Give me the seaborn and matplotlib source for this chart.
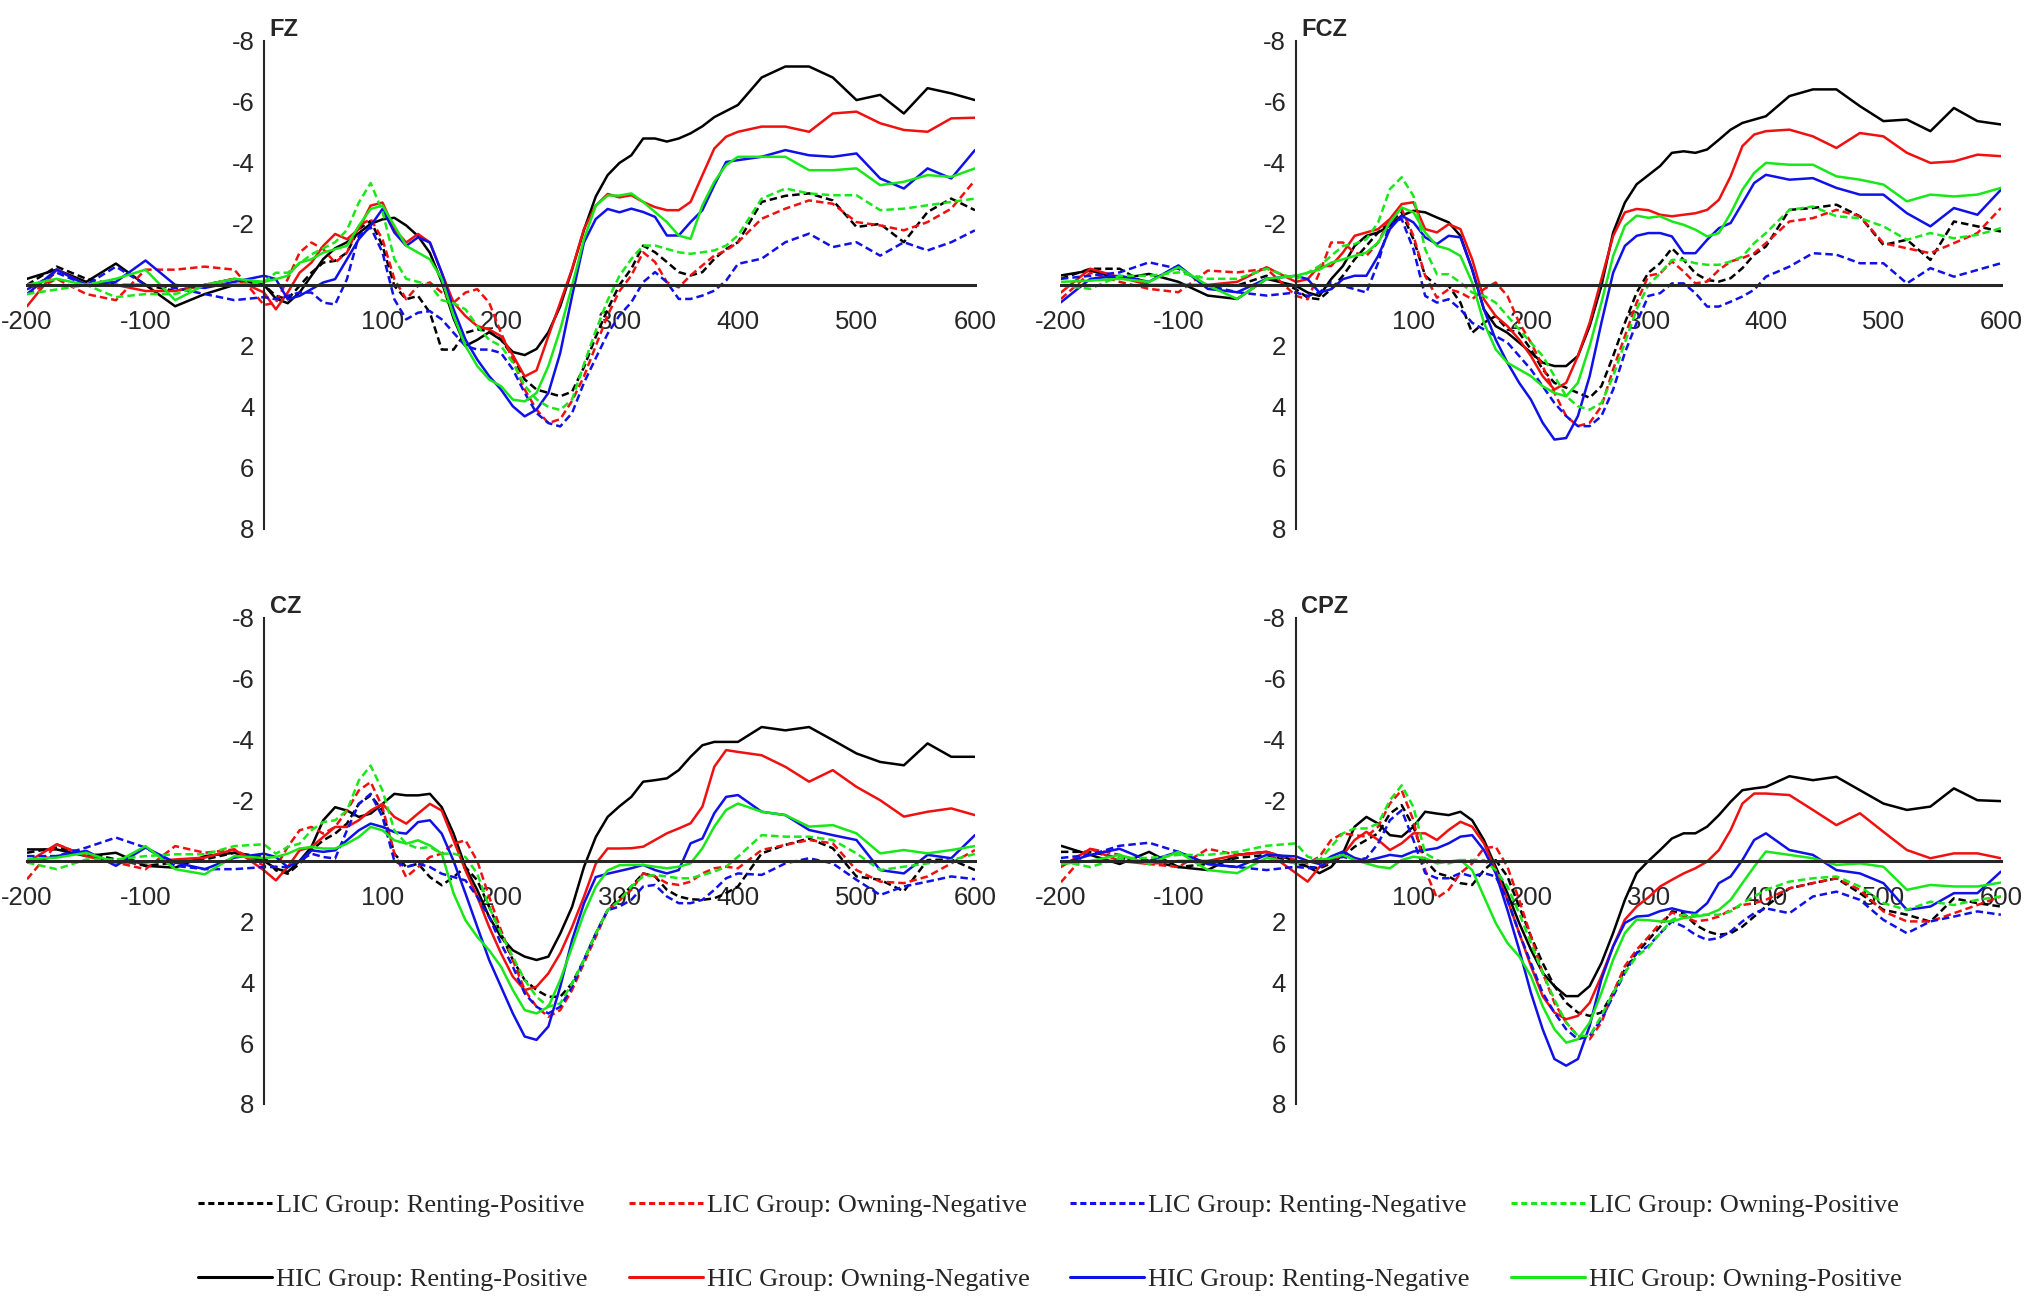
import matplotlib
matplotlib.use("Agg")
import numpy as np
import pandas as pd
import matplotlib.pyplot as plt
from matplotlib.lines import Line2D
import seaborn as sns

sns.set_style("white")
plt.rcParams["font.family"] = ["Liberation Sans", "DejaVu Sans"]
plt.rcParams["axes.unicode_minus"] = False

# time points (ms)
time_ms = [-200, -175, -150, -125, -100, -75, -50, -25,
           0, 10, 20, 30, 40, 50, 60, 70, 80, 90, 100,
           110, 120, 130, 140, 150, 160, 170, 180, 190, 200,
           210, 220, 230, 240, 250, 260, 270, 280, 290, 300,
           310, 320, 330, 340, 350, 360, 370, 380, 390, 400,
           420, 440, 460, 480, 500, 520, 540, 560, 580, 600]

conditions = ["Renting-Positive", "Owning-Negative", "Renting-Negative", "Owning-Positive"]
cond_colors = ["#000000", "#f01010", "#1010e8", "#18e818"]
groups = ["LIC Group", "HIC Group"]

# ---------------- FZ ----------------
fz_lic_rp = [0.0, -0.6, -0.2, 0.0, 0.0, 0.2, 0.0, -0.2, 0.0,
             0.36, 0.47, 0.03, -0.4, -0.73, -0.79, -1.06, -1.83, -2.1, -1.28,
             0.03, 0.47, 0.36, 0.91, 2.12, 2.12, 1.57, 1.46, 1.51, 1.79,
             2.34, 3.1, 3.43, 3.54, 3.65, 3.5, 2.7, 1.7, 0.8, 0.0,
             -0.53, -1.29, -1.07, -0.75, -0.42, -0.31, -0.42, -0.85, -1.18, -1.4,
             -2.72, -2.92, -3.0, -2.77, -1.9, -2.0, -1.4, -2.39, -2.83, -2.45]
fz_lic_on = [0.3, -0.2, 0.3, 0.5, -0.5, -0.5, -0.6, -0.5, 0.66,
             0.58, -0.19, -1.06, -1.39, -1.17, -0.73, -1.06, -1.94, -2.16, -1.5,
             -0.19, 0.47, 0.03, -0.08, 0.25, 0.58, 0.25, 0.14, 0.58, 1.57,
             2.45, 3.43, 4.09, 4.53, 4.4, 3.8, 3.0, 2.0, 1.0, 0.2,
             -0.31, -1.07, -0.75, -0.09, 0.08, -0.31, -0.64, -0.96, -1.13, -1.4,
             -2.17, -2.5, -2.77, -2.66, -2.06, -1.95, -1.79, -2.06, -2.5, -3.43]
fz_lic_rn = [0.15, -0.4, 0.0, -0.6, 0.0, 0.1, 0.3, 0.5, 0.4,
             0.47, 0.36, 0.25, 0.25, 0.58, 0.64, -0.19, -1.61, -1.89, -1.06,
             0.47, 1.13, 0.91, 0.86, 1.13, 1.57, 2.0, 2.12, 2.12, 2.23,
             2.77, 3.54, 4.2, 4.53, 4.64, 4.2, 3.21, 2.4, 1.6, 1.0,
             0.57, -0.09, -0.42, -0.09, 0.46, 0.46, 0.35, 0.19, -0.14, -0.69,
             -0.86, -1.4, -1.68, -1.24, -1.4, -0.96, -1.4, -1.13, -1.4, -1.79]
fz_lic_op = [0.3, 0.15, 0.0, 0.4, 0.3, 0.3, 0.0, 0.0, -0.1,
             -0.4, -0.4, -0.7, -1.0, -1.2, -1.4, -1.8, -2.7, -3.34, -2.4,
             -0.85, -0.2, -0.1, 0.0, 0.5, 0.6, 0.8, 1.35, 1.8, 2.0,
             2.55, 3.3, 3.75, 4.0, 4.1, 3.75, 2.6, 1.5, 0.5, -0.3,
             -0.85, -1.29, -1.29, -1.18, -1.07, -1.02, -1.07, -1.13, -1.29, -1.62,
             -2.83, -3.16, -3.0, -2.94, -2.94, -2.45, -2.5, -2.61, -2.72, -2.83]
fz_hic_rp = [-0.2, -0.5, -0.1, -0.7, 0.0, 0.7, 0.3, 0.0, 0.0,
             0.45, 0.6, 0.25, -0.3, -0.85, -1.2, -1.4, -1.7, -2.0, -2.15,
             -2.2, -1.95, -1.6, -1.05, -0.1, 1.1, 2.0, 1.8, 1.55, 1.8,
             2.2, 2.3, 2.1, 1.55, 0.7, -0.5, -1.8, -2.9, -3.6, -4.0,
             -4.25, -4.8, -4.8, -4.7, -4.8, -4.97, -5.2, -5.5, -5.7, -5.9,
             -6.8, -7.16, -7.16, -6.8, -6.06, -6.23, -5.62, -6.45, -6.28, -6.06]
fz_hic_on = [0.7, -0.5, 0.0, 0.0, 0.2, 0.2, 0.0, -0.2, 0.25,
             0.8, 0.25, -0.4, -0.73, -1.28, -1.67, -1.5, -1.83, -2.6, -2.7,
             -1.83, -1.39, -1.67, -1.39, -0.4, 0.58, 1.02, 1.35, 1.46, 1.68,
             2.3, 3.0, 2.8, 1.68, 0.58, -0.52, -1.83, -2.6, -2.98, -2.87,
             -2.94, -2.72, -2.55, -2.45, -2.45, -2.72, -3.6, -4.47, -4.86, -5.02,
             -5.19, -5.19, -5.02, -5.62, -5.68, -5.3, -5.08, -5.02, -5.46, -5.48]
fz_hic_rn = [0.3, -0.5, 0.0, -0.1, -0.8, 0.0, 0.1, -0.1, -0.3,
             -0.19, 0.47, 0.36, 0.14, -0.08, -0.19, -0.84, -1.5, -1.94, -2.49,
             -1.72, -1.28, -1.56, -1.39, -0.4, 0.8, 1.79, 2.45, 2.99, 3.43,
             3.98, 4.31, 4.09, 3.54, 2.23, 0.36, -1.39, -2.16, -2.49, -2.38,
             -2.5, -2.39, -2.23, -1.62, -1.62, -2.06, -2.45, -3.27, -4.03, -4.09,
             -4.2, -4.42, -4.25, -4.2, -4.31, -3.49, -3.16, -3.82, -3.49, -4.42]
fz_hic_op = [0.0, -0.2, 0.0, -0.2, -0.5, 0.5, 0.0, -0.2, -0.1,
             -0.19, -0.3, -0.73, -0.84, -1.06, -1.17, -1.28, -1.94, -2.49, -2.6,
             -1.94, -1.28, -1.06, -0.84, -0.19, 1.02, 2.0, 2.66, 3.1, 3.32,
             3.76, 3.82, 3.54, 2.66, 1.46, 0.03, -1.5, -2.6, -2.93, -2.93,
             -3.0, -2.72, -2.39, -2.06, -1.62, -1.51, -2.61, -3.38, -3.93, -4.2,
             -4.2, -4.2, -3.76, -3.76, -3.82, -3.27, -3.38, -3.6, -3.54, -3.82]

# ---------------- FCZ ----------------
fcz_lic_rp = [-0.2, -0.53, -0.53, 0.02, 0.02, 0.02, 0.02, -0.3, 0.14,
              0.42, 0.47, 0.14, -0.3, -0.84, -1.28, -1.72, -2.05, -2.38, -1.5,
              -0.3, 0.03, 0.03, 0.58, 1.57, 1.24, 1.02, 1.46, 1.57, 2.11,
              2.77, 3.21, 3.37, 3.54, 3.7, 3.32, 2.33, 1.24, 0.25, -0.4,
              -0.71, -1.2, -0.82, -0.38, -0.16, -0.11, -0.22, -0.55, -0.99, -1.26,
              -2.46, -2.52, -2.63, -2.25, -1.31, -1.48, -0.82, -2.08, -1.92, -1.75]
fcz_lic_on = [0.46, -0.4, -0.1, 0.13, 0.24, -0.47, -0.41, -0.53, 0.36,
              0.47, -0.4, -1.39, -1.39, -1.06, -0.95, -1.39, -2.16, -2.49, -1.61,
              -0.3, 0.42, 0.14, 0.25, 0.47, 0.14, -0.08, 0.36, 1.24, 1.89,
              2.66, 3.54, 4.3, 4.63, 4.52, 3.98, 2.77, 1.68, 0.58, -0.3,
              -0.38, -0.77, -0.44, -0.05, -0.11, -0.49, -0.77, -0.88, -1.04, -1.37,
              -2.08, -2.19, -2.46, -2.25, -1.37, -1.2, -1.04, -1.37, -1.7, -2.52]
fcz_lic_rn = [-0.2, -0.3, -0.41, -0.74, -0.53, 0.02, 0.24, 0.35, 0.25,
              0.36, 0.25, -0.08, 0.03, 0.14, 0.25, -0.73, -2.05, -2.16, -1.17,
              0.36, 0.58, 0.47, 0.8, 1.24, 1.46, 1.68, 1.89, 2.33, 2.77,
              3.32, 3.87, 4.3, 4.63, 4.63, 4.3, 3.43, 2.22, 1.24, 0.36,
              0.27, -0.05, -0.05, 0.27, 0.71, 0.71, 0.55, 0.38, 0.16, -0.27,
              -0.6, -1.04, -0.99, -0.71, -0.71, -0.05, -0.55, -0.27, -0.49, -0.71]
fcz_lic_op = [0.02, 0.13, -0.3, -0.3, -0.41, -0.2, -0.2, -0.53, -0.19,
              -0.4, -0.62, -0.95, -1.28, -1.34, -1.5, -2.05, -3.14, -3.53, -2.92,
              -1.17, -0.35, -0.35, -0.08, 0.25, 0.36, 0.58, 1.02, 1.46, 1.89,
              2.33, 2.99, 3.65, 3.98, 4.09, 3.87, 2.99, 1.89, 0.8, 0.0,
              -0.38, -0.82, -0.82, -0.71, -0.66, -0.66, -0.77, -0.93, -1.37, -1.7,
              -2.46, -2.57, -2.25, -2.19, -1.92, -1.48, -1.7, -1.53, -1.64, -1.86]
fcz_hic_rp = [-0.31, -0.47, -0.2, -0.36, -0.1, 0.35, 0.46, -0.2, 0.03,
              0.25, 0.36, -0.19, -0.62, -1.28, -1.61, -1.72, -1.94, -2.27, -2.43,
              -2.38, -2.21, -2.05, -1.61, -0.51, 0.8, 1.35, 1.57, 1.89, 2.22,
              2.55, 2.66, 2.66, 2.33, 1.35, 0.03, -1.72, -2.7, -3.3, -3.6,
              -3.9, -4.33, -4.38, -4.33, -4.44, -4.76, -5.09, -5.31, -5.42, -5.53,
              -6.19, -6.41, -6.41, -5.86, -5.37, -5.42, -5.04, -5.8, -5.37, -5.26]
fcz_hic_on = [0.25, -0.53, -0.25, 0.0, 0.0, 0.0, -0.1, -0.58, -0.1,
              -0.19, -0.62, -0.62, -1.06, -1.61, -1.72, -1.83, -2.16, -2.65, -2.71,
              -1.83, -1.72, -1.99, -1.83, -0.84, 0.47, 1.02, 1.35, 1.79, 2.33,
              2.99, 3.43, 3.21, 2.33, 1.24, -0.19, -1.61, -2.38, -2.49, -2.45,
              -2.3, -2.25, -2.3, -2.35, -2.46, -2.79, -3.56, -4.55, -4.93, -5.04,
              -5.09, -4.87, -4.49, -4.98, -4.87, -4.33, -4.0, -4.05, -4.27, -4.22]
fcz_hic_rn = [0.57, -0.2, -0.3, -0.1, -0.64, 0.13, 0.24, -0.2, -0.3,
              -0.19, 0.25, 0.14, -0.19, -0.3, -0.3, -0.95, -1.83, -2.27, -2.05,
              -1.56, -1.34, -1.61, -1.56, -0.51, 0.8, 1.79, 2.55, 3.21, 3.76,
              4.52, 5.07, 5.02, 4.3, 2.99, 1.24, -0.4, -1.28, -1.61, -1.7,
              -1.7, -1.59, -1.04, -1.04, -1.48, -1.86, -2.03, -2.68, -3.34, -3.61,
              -3.45, -3.5, -3.18, -2.96, -2.96, -2.35, -1.92, -2.52, -2.3, -3.12]
fcz_hic_op = [-0.1, -0.14, -0.2, -0.1, -0.58, 0.02, 0.46, -0.2, -0.3,
              -0.4, -0.5, -0.73, -0.84, -0.95, -1.06, -1.39, -2.05, -2.54, -2.38,
              -1.72, -1.28, -1.17, -0.95, -0.08, 1.24, 2.11, 2.55, 2.77, 2.99,
              3.32, 3.54, 3.65, 3.21, 2.0, 0.58, -0.95, -1.94, -2.27, -2.2,
              -2.25, -2.08, -1.97, -1.81, -1.59, -1.7, -2.35, -3.12, -3.67, -4.0,
              -3.94, -3.94, -3.56, -3.45, -3.29, -2.74, -2.96, -2.9, -2.96, -3.18]

# ---------------- CZ ----------------
cz_lic_rp = [-0.27, -0.44, -0.27, -0.05, 0.16, 0.05, -0.05, -0.27, -0.13,
             0.31, 0.42, 0.09, -0.35, -0.68, -0.9, -1.23, -1.88, -2.16, -1.66,
             -0.24, 0.2, 0.09, 0.53, 0.8, 0.53, 0.2, 0.64, 1.51, 2.39,
             3.26, 3.92, 4.25, 4.47, 4.47, 4.03, 3.26, 2.39, 1.62, 1.2,
             0.84, 0.41, 0.51, 0.95, 1.17, 1.26, 1.28, 1.23, 1.06, 0.84,
             -0.25, -0.53, -0.74, -0.42, 0.51, 0.62, 1.0, -0.03, -0.05, 0.3]
cz_lic_on = [0.6, -0.55, -0.16, 0.05, 0.27, -0.49, -0.27, -0.38, 0.16,
             0.2, -0.46, -1.01, -1.12, -0.9, -1.12, -1.66, -2.32, -2.6, -1.77,
             -0.24, 0.53, 0.2, -0.13, -0.24, -0.57, -0.68, 0.0, 1.18, 2.28,
             3.26, 4.25, 4.8, 5.13, 4.91, 4.25, 3.37, 2.5, 1.62, 1.3,
             0.95, 0.41, 0.51, 0.73, 0.79, 0.68, 0.41, 0.24, 0.19, 0.24,
             -0.36, -0.53, -0.69, -0.58, 0.3, 0.68, 0.73, 0.51, 0.08, -0.36]
cz_lic_rn = [-0.16, -0.16, -0.44, -0.77, -0.44, 0.16, 0.27, 0.27, 0.2,
             0.2, 0.2, 0.0, -0.24, -0.13, -0.08, -1.01, -1.88, -2.21, -1.45,
             0.0, 0.2, 0.09, 0.2, 0.42, 0.53, 0.64, 1.18, 1.84, 2.72,
             3.48, 4.36, 4.8, 5.02, 4.8, 4.14, 3.26, 2.39, 1.62, 1.5,
             1.28, 0.84, 0.79, 1.17, 1.39, 1.39, 1.28, 0.95, 0.57, 0.41,
             0.46, 0.08, -0.09, 0.08, 0.62, 1.12, 0.84, 0.68, 0.51, 0.6]
cz_lic_op = [0.05, 0.27, -0.05, -0.05, -0.16, -0.22, -0.22, -0.49, -0.55,
             -0.24, -0.46, -0.57, -1.01, -1.28, -1.34, -1.66, -2.65, -3.14, -2.32,
             -1.01, -0.57, -0.41, -0.46, -0.24, -0.24, -0.13, 0.42, 1.51, 2.39,
             3.15, 3.92, 4.47, 4.8, 4.69, 4.03, 3.26, 2.39, 1.62, 1.3,
             0.84, 0.51, 0.46, 0.51, 0.57, 0.57, 0.46, 0.35, 0.19, -0.14,
             -0.85, -0.8, -0.8, -0.69, -0.25, 0.3, 0.19, 0.08, -0.03, -0.23]
cz_hic_rp = [-0.38, -0.38, -0.16, -0.27, 0.16, 0.22, -0.16, -0.27, 0.0,
             0.25, 0.36, 0.0, -0.46, -1.34, -1.77, -1.66, -1.45, -1.56, -1.88,
             -2.21, -2.16, -2.16, -2.21, -1.77, -0.9, 0.2, 0.96, 1.84, 2.5,
             2.94, 3.15, 3.26, 3.15, 2.39, 1.51, 0.2, -0.79, -1.45, -1.8,
             -2.11, -2.61, -2.66, -2.72, -2.99, -3.43, -3.81, -3.92, -3.92, -3.92,
             -4.41, -4.3, -4.41, -3.98, -3.54, -3.26, -3.15, -3.87, -3.43, -3.43]
cz_hic_on = [0.05, -0.55, -0.16, 0.05, 0.05, -0.05, -0.11, -0.38, 0.31,
             0.64, 0.2, -0.35, -0.46, -0.79, -1.12, -1.12, -1.34, -1.66, -1.88,
             -1.45, -1.23, -1.56, -1.88, -1.66, -0.68, 0.31, 1.18, 2.17, 3.04,
             3.81, 4.25, 4.14, 3.7, 3.04, 2.17, 1.18, 0.09, -0.41, -0.41,
             -0.42, -0.47, -0.69, -0.91, -1.07, -1.24, -1.79, -3.1, -3.65, -3.59,
             -3.48, -3.1, -2.61, -2.99, -2.44, -2.0, -1.46, -1.62, -1.73, -1.51]
cz_hic_rn = [0.05, -0.16, -0.33, 0.16, -0.44, 0.05, 0.27, -0.11, -0.24,
             -0.13, 0.2, 0.0, -0.35, -0.3, -0.35, -0.68, -1.01, -1.23, -1.12,
             -0.95, -0.9, -1.28, -1.34, -0.9, 0.0, 1.07, 2.17, 3.26, 4.14,
             5.02, 5.78, 5.89, 5.45, 4.14, 2.61, 1.4, 0.53, 0.42, 0.33,
             0.24, 0.13, 0.3, 0.41, 0.3, -0.58, -0.74, -1.57, -2.11, -2.17,
             -1.62, -1.51, -1.02, -0.85, -0.69, 0.3, 0.41, -0.2, -0.09, -0.85]
cz_hic_op = [-0.05, -0.11, -0.27, 0.05, -0.49, 0.27, 0.44, -0.16, -0.1,
             -0.13, -0.24, -0.41, -0.46, -0.41, -0.41, -0.57, -0.79, -1.12, -1.01,
             -0.68, -0.57, -0.68, -0.51, -0.24, 1.07, 1.95, 2.5, 2.94, 3.48,
             4.25, 4.91, 5.02, 4.8, 3.92, 2.83, 1.73, 0.85, 0.31, 0.14,
             0.13, 0.13, 0.19, 0.24, 0.19, 0.08, -0.42, -1.13, -1.68, -1.89,
             -1.62, -1.51, -1.13, -1.18, -0.91, -0.25, -0.36, -0.25, -0.36, -0.49]

# ---------------- CPZ ----------------
cpz_lic_rp = [-0.3, -0.3, -0.1, 0.0, 0.2, 0.1, -0.1, -0.2, 0.08,
              0.19, 0.24, 0.08, -0.14, -0.47, -0.69, -0.91, -1.56, -1.84, -1.13,
              -0.03, 0.4, 0.51, 0.73, 0.79, 0.3, -0.03, 0.51, 1.5, 2.48,
              3.36, 4.12, 4.67, 4.99, 5.1, 4.99, 4.34, 3.57, 3.03, 2.6,
              2.16, 1.66, 1.72, 2.1, 2.32, 2.43, 2.38, 2.16, 1.83, 1.5,
              0.9, 0.73, 0.57, 1.06, 1.61, 1.77, 2.0, 1.23, 1.39, 1.5]
cpz_lic_on = [0.7, -0.4, -0.2, 0.1, 0.2, -0.4, -0.2, -0.3, -0.03,
              0.08, -0.14, -0.69, -0.91, -0.85, -0.8, -1.13, -1.89, -2.33, -1.34,
              0.3, 1.22, 0.95, 0.4, 0.08, -0.42, -0.47, 0.19, 1.28, 2.48,
              3.68, 4.67, 5.32, 5.76, 5.87, 5.32, 4.34, 3.46, 2.92, 2.5,
              2.05, 1.7, 1.83, 1.99, 1.94, 1.83, 1.61, 1.45, 1.39, 1.28,
              0.9, 0.73, 0.57, 0.95, 1.66, 1.99, 1.99, 1.72, 1.45, 1.17]
cpz_lic_rn = [-0.1, -0.2, -0.5, -0.6, -0.3, 0.1, 0.2, 0.3, 0.19,
              0.24, 0.19, -0.03, -0.14, -0.03, -0.09, -0.58, -1.34, -1.67, -0.69,
              0.4, 0.57, 0.57, 0.4, 0.51, 0.4, 0.51, 1.28, 2.37, 3.36,
              4.34, 4.99, 5.54, 5.87, 5.76, 5.21, 4.45, 3.68, 3.03, 2.8,
              2.38, 1.99, 2.16, 2.43, 2.6, 2.54, 2.32, 1.99, 1.72, 1.56,
              1.72, 1.17, 1.01, 1.28, 1.94, 2.38, 1.99, 1.83, 1.66, 1.77]
cpz_lic_op = [0.0, 0.2, -0.1, -0.1, -0.2, -0.2, -0.3, -0.5, -0.58,
              -0.14, -0.03, -0.47, -0.91, -1.07, -1.07, -1.23, -2.0, -2.49, -1.78,
              -0.25, -0.03, 0.08, -0.03, -0.03, -0.03, 0.3, 0.84, 1.72, 2.7,
              3.68, 4.56, 5.32, 5.76, 5.76, 5.1, 4.34, 3.68, 3.14, 2.85,
              2.38, 1.94, 1.77, 1.77, 1.77, 1.77, 1.66, 1.39, 1.17, 0.95,
              0.68, 0.57, 0.51, 0.84, 1.39, 1.61, 1.34, 1.45, 1.28, 1.17]
cpz_hic_rp = [-0.5, -0.2, 0.1, -0.3, 0.2, 0.3, -0.2, -0.3, 0.0,
              0.19, 0.4, 0.2, -0.25, -1.13, -1.45, -1.23, -0.85, -0.8, -1.13,
              -1.62, -1.56, -1.51, -1.62, -1.34, -0.69, 0.19, 1.06, 2.04, 2.92,
              3.68, 4.12, 4.45, 4.45, 4.12, 3.36, 2.37, 1.28, 0.4, 0.0,
              -0.36, -0.74, -0.91, -0.91, -1.13, -1.51, -1.95, -2.33, -2.39, -2.44,
              -2.79, -2.66, -2.77, -2.33, -1.89, -1.68, -1.79, -2.39, -2.0, -1.97]
cpz_hic_on = [0.2, -0.4, 0.0, 0.1, 0.0, 0.0, -0.2, -0.3, 0.4,
              0.68, 0.2, 0.0, -0.2, -0.69, -0.96, -0.69, -0.36, -0.58, -0.91,
              -0.91, -0.69, -1.02, -1.29, -1.13, -0.58, 0.3, 1.28, 2.37, 3.46,
              4.45, 4.99, 5.21, 5.1, 4.67, 3.79, 2.81, 1.93, 1.5, 1.2,
              0.84, 0.62, 0.41, 0.24, 0.02, -0.36, -1.02, -1.89, -2.22, -2.22,
              -2.17, -1.68, -1.18, -1.57, -0.96, -0.36, -0.09, -0.25, -0.25, -0.09]
cpz_hic_rn = [0.1, -0.2, -0.4, 0.0, -0.3, 0.1, 0.2, -0.2, -0.15,
              0.0, 0.1, -0.15, -0.31, -0.1, 0.0, -0.1, -0.2, -0.15, -0.31,
              -0.36, -0.42, -0.58, -0.8, -0.85, -0.36, 0.4, 1.61, 2.92, 4.34,
              5.54, 6.52, 6.74, 6.52, 5.43, 3.9, 2.81, 2.04, 1.83, 1.8,
              1.65, 1.56, 1.66, 1.72, 1.39, 0.73, 0.51, -0.03, -0.69, -0.91,
              -0.36, -0.2, 0.3, 0.41, 0.73, 1.61, 1.5, 1.06, 1.06, 0.35]
cpz_hic_op = [0.1, 0.0, -0.2, 0.1, -0.3, 0.3, 0.4, -0.1, 0.08,
              0.02, -0.03, -0.09, -0.2, -0.03, 0.08, 0.19, 0.24, -0.03, -0.14,
              -0.09, 0.08, 0.02, -0.03, 0.3, 1.17, 2.04, 2.7, 3.14, 3.79,
              4.78, 5.54, 5.98, 5.87, 5.32, 4.34, 3.25, 2.37, 1.93, 1.95,
              1.99, 1.99, 1.88, 1.83, 1.77, 1.61, 1.28, 0.73, 0.19, -0.31,
              -0.2, -0.09, 0.13, 0.08, 0.19, 0.95, 0.79, 0.84, 0.84, 0.71]

panels = {
    "FZ": [fz_lic_rp, fz_lic_on, fz_lic_rn, fz_lic_op, fz_hic_rp, fz_hic_on, fz_hic_rn, fz_hic_op],
    "FCZ": [fcz_lic_rp, fcz_lic_on, fcz_lic_rn, fcz_lic_op, fcz_hic_rp, fcz_hic_on, fcz_hic_rn, fcz_hic_op],
    "CZ": [cz_lic_rp, cz_lic_on, cz_lic_rn, cz_lic_op, cz_hic_rp, cz_hic_on, cz_hic_rn, cz_hic_op],
    "CPZ": [cpz_lic_rp, cpz_lic_on, cpz_lic_rn, cpz_lic_op, cpz_hic_rp, cpz_hic_on, cpz_hic_rn, cpz_hic_op],
}

# axes rectangles in figure fractions (left, bottom, width, height)
ax_rects = {
    "FZ": [0.0133, 0.5925, 0.4665, 0.376],
    "FCZ": [0.5221, 0.5925, 0.4626, 0.376],
    "CZ": [0.0133, 0.1495, 0.4665, 0.3744],
    "CPZ": [0.5221, 0.1495, 0.4626, 0.3744],
}

palette = dict(zip(conditions, cond_colors))
dash_map = {"LIC Group": (3, 1.6), "HIC Group": ""}
LW = 1.8

fig = plt.figure(figsize=(20.32, 12.98), dpi=100)

for name, series in panels.items():
    rows = []
    for i, vals in enumerate(series):
        grp = groups[i // 4]
        cond = conditions[i % 4]
        for t, v in zip(time_ms, vals):
            rows.append((t, v, cond, grp))
    df = pd.DataFrame(rows, columns=["time", "amp", "condition", "group"])

    ax = fig.add_axes(ax_rects[name])
    sns.lineplot(data=df, x="time", y="amp", hue="condition", style="group",
                 palette=palette, dashes=dash_map, estimator=None, sort=False,
                 linewidth=LW, legend=False, ax=ax)

    ax.set_xlim(-200, 600)
    ax.set_ylim(8, -8)
    ax.set_xlabel("")
    ax.set_ylabel("")
    ax.set_facecolor("none")
    ax.spines["top"].set_visible(False)
    ax.spines["right"].set_visible(False)
    ax.spines["left"].set_position(("data", 0))
    ax.spines["bottom"].set_position(("data", 0))
    ax.spines["left"].set_linewidth(1.5)
    ax.spines["bottom"].set_linewidth(2.2)
    ax.spines["left"].set_zorder(5)
    ax.spines["bottom"].set_zorder(5)

    ax.set_xticks([-200, -100, 100, 200, 300, 400, 500, 600])
    ax.set_xticklabels(["-200", "-100", "100", "200", "300", "400", "500", "600"])
    ax.set_yticks([-8, -6, -4, -2, 2, 4, 6, 8])
    ax.set_yticklabels(["-8", "-6", "-4", "-2", "2", "4", "6", "8"])
    ax.tick_params(axis="x", direction="out", length=6, width=1.5, pad=12, labelsize=18.5)
    ax.tick_params(axis="y", direction="out", length=4, width=1.5, pad=3, labelsize=18.5)

    ax.annotate(name, xy=(0, -8), xytext=(4, 0), textcoords="offset points",
                ha="left", va="bottom", fontsize=17, fontweight="bold",
                annotation_clip=False)

# legend: row 1 LIC (dashed), row 2 HIC (solid)
col_x = [0.0976, 0.3094, 0.5268, 0.7436]
row_y = [0.0716, 0.0146]
for r, grp in enumerate(groups):
    for c, cond in enumerate(conditions):
        h = Line2D([], [], color=cond_colors[c], lw=2.2,
                   dashes=(2, 1.2) if grp == "LIC Group" else (None, None),
                   linestyle="--" if grp == "LIC Group" else "-")
        fig.legend([h], [f"{grp}: {cond}"], loc="center left",
                   bbox_to_anchor=(col_x[c], row_y[r]), frameon=False,
                   borderpad=0, borderaxespad=0, handlelength=2.8,
                   handletextpad=0.15,
                   prop={"family": ["Liberation Serif", "DejaVu Serif"], "size": 19})

fig.savefig("out.png", dpi=100)
